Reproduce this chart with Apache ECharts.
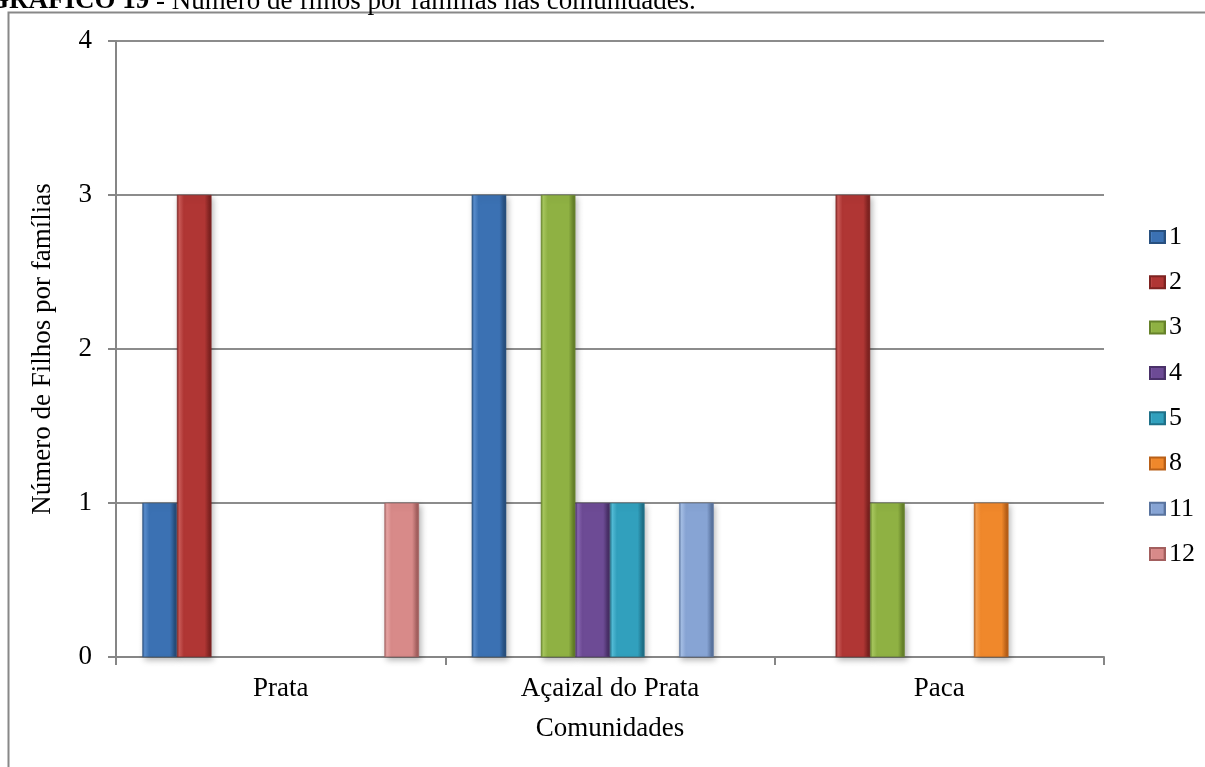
<!DOCTYPE html>
<html>
<head>
<meta charset="utf-8">
<script src="https://cdn.jsdelivr.net/npm/echarts@6/dist/echarts.min.js"></script>
<style>
  html, body { margin: 0; padding: 0; background: #fff; }
  #chart { width: 1205px; height: 767px; }
</style>
</head>
<body>
<div id="chart"></div>
<script>
// Communities on the category axis
const categories = ['Prata', 'Açaizal do Prata', 'Paca'];

// Number of families per number of children, one array per legend entry
const seriesNames = ['1', '2', '3', '4', '5', '8', '11', '12'];
const s1  = [1, 3, 0];
const s2  = [3, 0, 3];
const s3  = [0, 3, 1];
const s4  = [0, 1, 0];
const s5  = [0, 1, 0];
const s8  = [0, 0, 1];
const s11 = [0, 1, 0];
const s12 = [1, 0, 0];
const seriesValues = [s1, s2, s3, s4, s5, s8, s11, s12];

// Value axis ticks
const yTicks = [0, 1, 2, 3, 4];

// Base / edge / highlight colours per series (bevelled column look)
const palette = [
  { mid: '#3b71b3', edge: '#28507f', hi: '#5a8fd0' },
  { mid: '#b03634', edge: '#7e2321', hi: '#cc5a57' },
  { mid: '#8fb143', edge: '#66822a', hi: '#a8c95e' },
  { mid: '#6d4b95', edge: '#4a3169', hi: '#8a68b3' },
  { mid: '#31a0bd', edge: '#1f7189', hi: '#53bdd8' },
  { mid: '#f0882b', edge: '#b96018', hi: '#f8a04f' },
  { mid: '#87a4d4', edge: '#5a749f', hi: '#a6c0e8' },
  { mid: '#d88a89', edge: '#a35f5e', hi: '#e9a5a4' }
];

const serif = '"Liberation Serif", "DejaVu Serif", serif';

function barColor(p) {
  return new echarts.graphic.LinearGradient(0, 0, 1, 0, [
    { offset: 0, color: p.edge },
    { offset: 0.07, color: p.hi },
    { offset: 0.2, color: p.mid },
    { offset: 0.8, color: p.mid },
    { offset: 0.94, color: p.edge },
    { offset: 1, color: p.edge }
  ]);
}

const chart = echarts.init(document.getElementById('chart'), null, { renderer: 'canvas' });

const option = {
  backgroundColor: '#ffffff',
  animation: false,
  textStyle: { fontFamily: serif, color: '#000' },
  grid: { left: 116, right: 101, top: 41, bottom: 110, containLabel: false },
  graphic: [
    {
      type: 'rect',
      shape: { x: 8.5, y: 12.5, width: 1300, height: 900 },
      style: { fill: 'none', stroke: '#888888', lineWidth: 2 },
      silent: true
    },
    {
      type: 'text',
      x: -12,
      y: -12,
      style: {
        text: '{b|GRÁFICO 19} - Número de filhos por famílias nas comunidades.',
        fontSize: 27,
        fontFamily: serif,
        fill: '#000',
        rich: {
          b: { fontWeight: 'bold', fontSize: 27, fontFamily: serif, fill: '#000' }
        }
      },
      silent: true
    }
  ],
  legend: {
    orient: 'vertical',
    left: 1144,
    top: 219,
    itemWidth: 15,
    itemHeight: 12,
    itemGap: 19.3,
    icon: 'rect',
    textStyle: { fontFamily: serif, fontSize: 26, color: '#000', padding: [0, 0, 0, -1] },
    data: seriesNames
  },
  xAxis: {
    type: 'category',
    data: categories,
    name: 'Comunidades',
    nameLocation: 'middle',
    nameGap: 58,
    nameTextStyle: { fontFamily: serif, fontSize: 27, color: '#000' },
    axisLine: { lineStyle: { color: '#868686', width: 2 } },
    axisTick: { show: true, alignWithLabel: false, length: 8, lineStyle: { color: '#868686', width: 2 } },
    axisLabel: { fontFamily: serif, fontSize: 27, color: '#000', margin: 18 }
  },
  yAxis: {
    type: 'value',
    min: yTicks[0],
    max: yTicks[yTicks.length - 1],
    interval: 1,
    name: 'Número de Filhos por famílias',
    nameLocation: 'middle',
    nameGap: 60,
    nameTextStyle: { fontFamily: serif, fontSize: 27, color: '#000' },
    axisLine: { show: true, lineStyle: { color: '#868686', width: 2 } },
    axisTick: { show: true, length: 8, lineStyle: { color: '#868686', width: 2 } },
    axisLabel: { fontFamily: serif, fontSize: 27, color: '#000', margin: 24 },
    splitLine: { lineStyle: { color: '#8c8c8c', width: 2 } }
  },
  series: seriesNames.map((name, i) => ({
    name: name,
    type: 'bar',
    // a zero count leaves the slot empty
    data: seriesValues[i].map(v => (v === 0 ? null : v)),
    barGap: '0%',
    barCategoryGap: '16%',
    itemStyle: {
      color: barColor(palette[i]),
      borderColor: palette[i].edge,
      borderWidth: 0.5,
      shadowColor: 'rgba(0,0,0,0.28)',
      shadowBlur: 6,
      shadowOffsetX: 2,
      shadowOffsetY: 3
    },
    emphasis: { disabled: true }
  }))
};

// Legend swatches use the flat mid colour
option.series.forEach((s, i) => { s.color = palette[i].mid; });

chart.setOption(option);
</script>
</body>
</html>
